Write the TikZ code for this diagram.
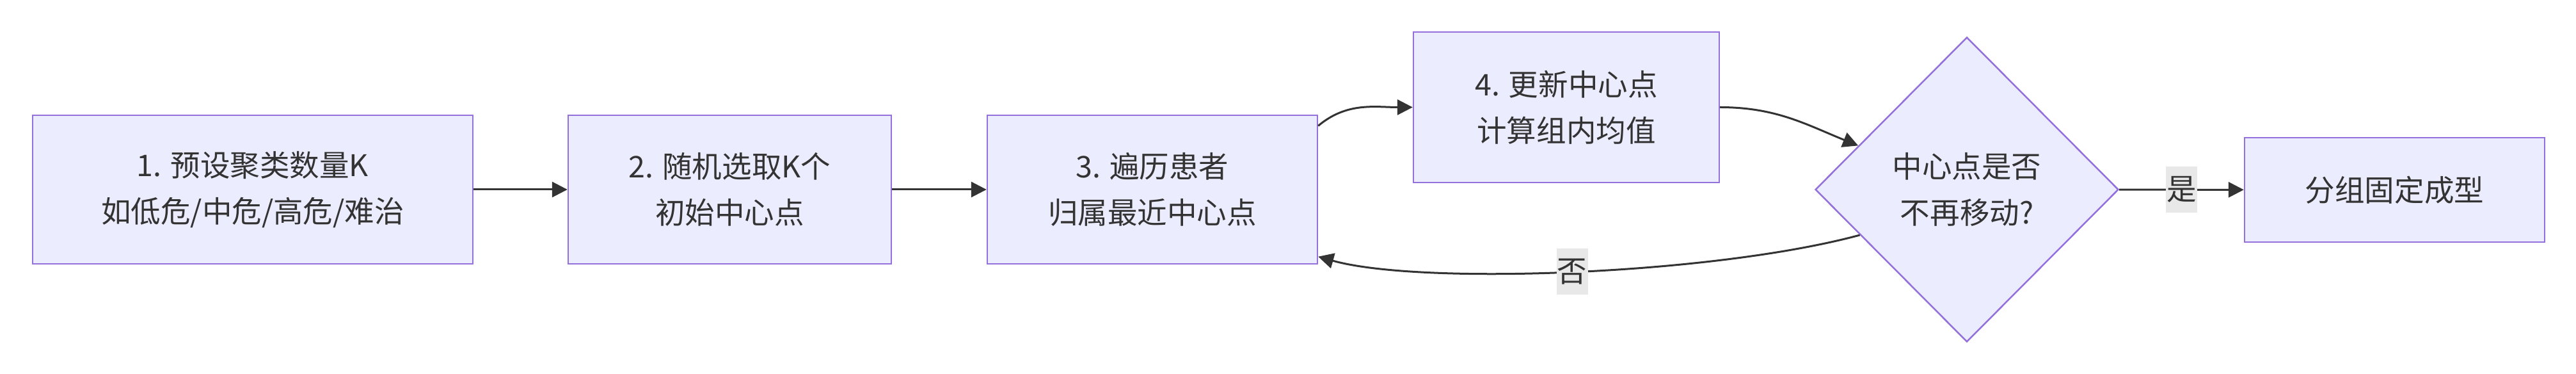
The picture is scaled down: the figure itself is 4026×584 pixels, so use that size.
\documentclass[tikz,border=0pt]{standalone}
\usepackage{fontspec}
\setmainfont{Noto Sans CJK SC}
\usetikzlibrary{shapes.geometric,arrows.meta}

\definecolor{boxfill}{HTML}{ECECFF}
\definecolor{boxline}{HTML}{9370DB}
\definecolor{ink}{HTML}{333333}
\definecolor{labelbg}{HTML}{E8E8E8}

\tikzset{
	box/.style={draw=boxline, fill=boxfill, line width=0.05cm, align=center, text=ink, inner sep=0pt},
	flow/.style={draw=ink, line width=0.06cm, -{Triangle[length=0.48cm,width=0.48cm]}},
	lbl/.style={fill=labelbg, text=ink, inner sep=0pt, minimum width=0.98cm, minimum height=1.44cm}
}

\begin{document}
\begin{tikzpicture}[x=0.02cm, y=0.02cm, font=\fontsize{26.5}{41}\selectfont]
	\useasboundingbox (0,0) rectangle (4026,584);

	\node [box, minimum width=13.76cm, minimum height=4.64cm] (setk) at (395,288)
		{1. 预设聚类数量K\\如低危/中危/高危/难治};
	\node [box, minimum width=10.1cm, minimum height=4.64cm] (init) at (1140.5,288)
		{2. 随机选取K个\\初始中心点};
	\node [box, minimum width=10.32cm, minimum height=4.64cm] (assign) at (1801,288)
		{3. 遍历患者\\归属最近中心点};
	\node [box, minimum width=9.56cm, minimum height=4.7cm] (update) at (2448,416.5)
		{4. 更新中心点\\计算组内均值};
	\node [box, shape=diamond, aspect=1, minimum width=9.48cm, minimum height=9.52cm] (check) at (3074,288)
		{中心点是否\\不再移动?};
	\node [box, minimum width=9.38cm, minimum height=3.26cm] (done) at (3742.5,287.5)
		{分组固定成型};

	\draw [flow] (setk) -- (init);
	\draw [flow] (init) -- (assign);
	\draw [flow] (assign.21) to [out=40, in=180] (update.west);
	\draw [flow] (update.east) to [out=0, in=158] (check.158);
	\draw [flow] (check.203) .. controls +(-230,-62) and +(160,-45) .. (assign.338)
		node [lbl, pos=0.5] {否};
	\draw [flow] (check) -- node [lbl] {是} (done);
\end{tikzpicture}
\end{document}
